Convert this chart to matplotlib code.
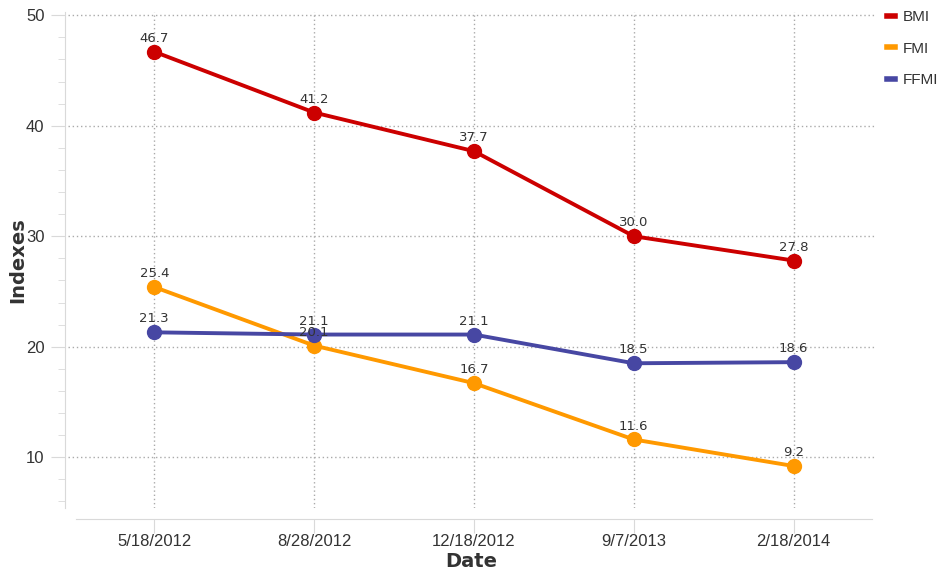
import matplotlib
matplotlib.use('AGG')
import matplotlib.pyplot as plt
from matplotlib.ticker import MultipleLocator

dates = ["5/18/2012", "8/28/2012", "12/18/2012", "9/7/2013", "2/18/2014"]
bmi = [46.7, 41.2, 37.7, 30.0, 27.8]
fmi = [25.4, 20.1, 16.7, 11.6, 9.2]
ffmi = [21.3, 21.1, 21.1, 18.5, 18.6]

series = [("BMI", bmi, "#cc0000"), ("FMI", fmi, "#ff9900"), ("FFMI", ffmi, "#4747a3")]

plt.rcParams['font.family'] = ['Liberation Sans', 'DejaVu Sans']

fig = plt.figure(figsize=(9.42, 5.76), dpi=100)
ax = fig.add_axes([0.0722, 0.1181, 0.8567, 0.8611])

x = list(range(len(dates)))
for name, vals, col in series:
    ax.plot(x, vals, color=col, lw=2.8, marker="o", ms=10, label=name, zorder=3)
    for xi, v in zip(x, vals):
        ax.annotate("%.1f" % v, (xi, v), xytext=(0, 5), textcoords="offset points",
                    ha="center", va="bottom", fontsize=9.5, color="#333333",
                    family="DejaVu Sans", zorder=4)

ax.set_xlim(-0.54, 4.51)
ax.set_ylim(5.4, 50.3)
ax.set_xticks(x)
ax.set_xticklabels(dates)
ax.yaxis.set_major_locator(MultipleLocator(10))
ax.yaxis.set_minor_locator(MultipleLocator(2))

ax.grid(True, which="major", color="#aaaaaa", linestyle=(0, (1, 2)), lw=1)
ax.set_axisbelow(True)

for s in ["top", "right"]:
    ax.spines[s].set_visible(False)
ax.spines["left"].set_position(("outward", 2))
ax.spines["bottom"].set_position(("outward", 8))
ax.spines["left"].set_color("#d9d9d9")
ax.spines["bottom"].set_color("#d9d9d9")
ax.spines["bottom"].set_bounds(-0.49, 4.49)
ax.tick_params(axis="both", which="major", color="#d9d9d9", length=10, pad=5,
               labelsize=12, labelcolor="#333333")
ax.tick_params(axis="x", which="major", pad=1)
ax.tick_params(axis="y", which="minor", color="#d9d9d9", length=5)

ax.set_xlabel("Date", fontsize=14, fontweight="bold", color="#333333",
              family="DejaVu Sans", labelpad=2)
ax.set_ylabel("Indexes", fontsize=14, fontweight="bold", color="#333333",
              family="DejaVu Sans", labelpad=-1)

leg = ax.legend(loc="upper left", bbox_to_anchor=(887 / 942, 1 - 10 / 576),
                bbox_transform=fig.transFigure, frameon=False, borderpad=0,
                borderaxespad=0, handlelength=0.55, handletextpad=0.5,
                labelspacing=1.15, prop={"size": 11})
for t in leg.get_texts():
    t.set_color("#333333")
for h in leg.legend_handles:
    h.set_marker("")
    h.set_linewidth(4)

plt.savefig("out.png", dpi=100)
